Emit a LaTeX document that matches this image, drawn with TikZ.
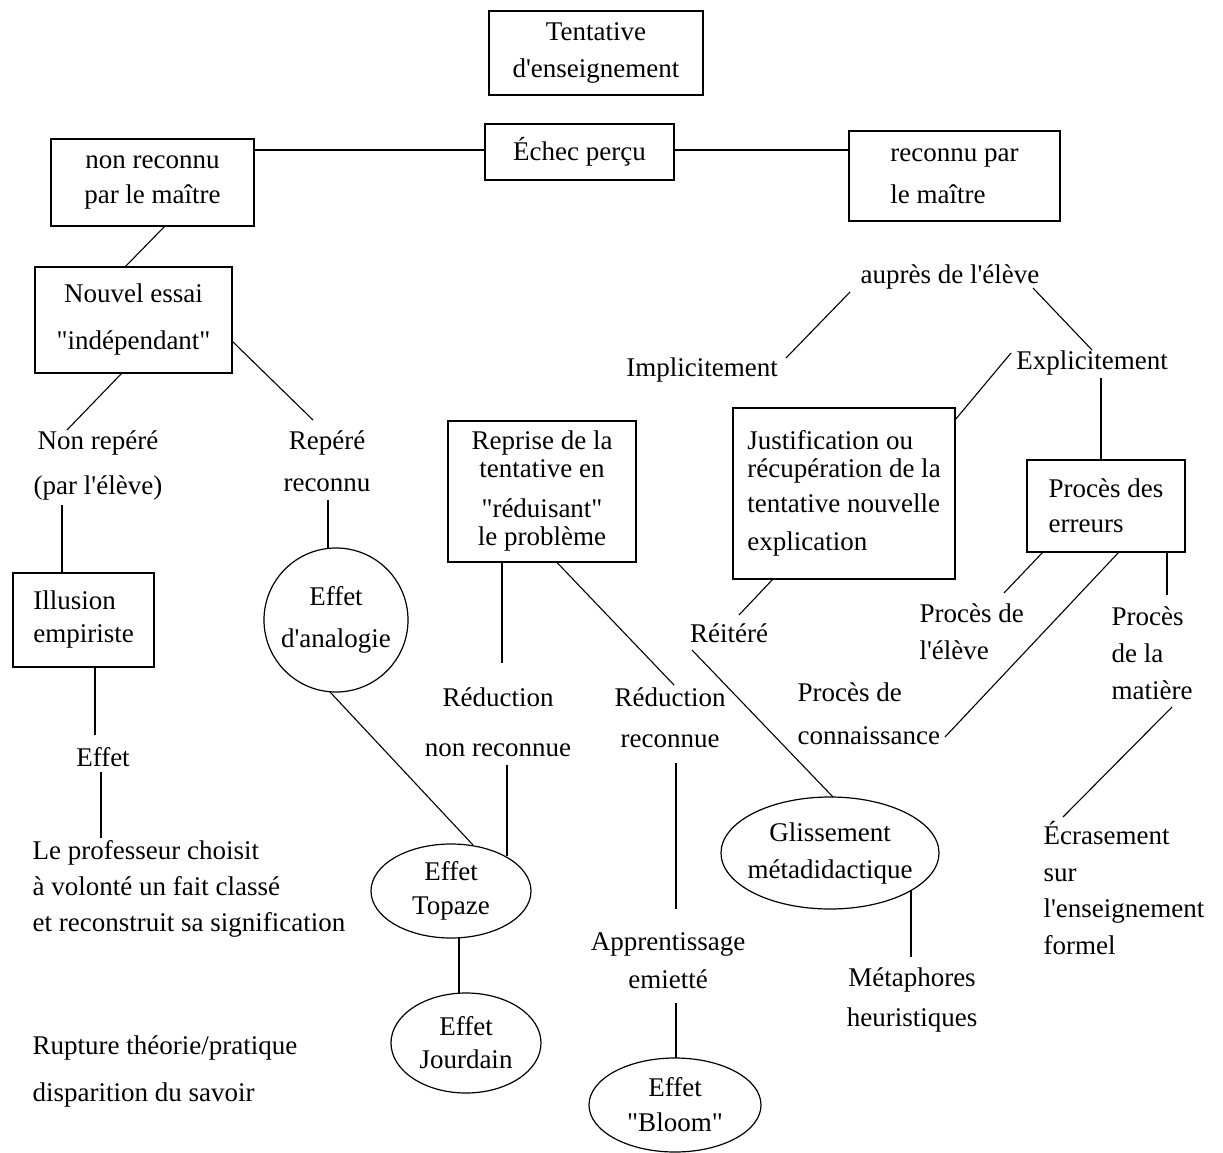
\documentclass[tikz,border=0pt]{standalone}
\usepackage{fontspec}
\newfontfamily\lsf{Liberation Serif}
\usetikzlibrary{shapes.geometric}
\begin{document}
\begin{tikzpicture}[x=1pt,y=-1pt,line width=1.2pt,
  txt/.style={font=\lsf\fontsize{27pt}{#1pt}\selectfont,inner sep=0pt,align=center},
  txt/.default=36,
  txtl/.style={font=\lsf\fontsize{27pt}{#1pt}\selectfont,inner sep=0pt,align=left,anchor=west},
  txtl/.default=36,
  boxn/.style={draw,rectangle,inner sep=0pt},
  ellp/.style={draw,ellipse,inner sep=0pt},
  conn/.style={line width=1.1pt}]
\useasboundingbox (0,0) rectangle (1223,1153);

% boxes
\node[boxn,txt=37,minimum width=214pt,minimum height=84pt] (tent) at (596,53) {Tentative\\d'enseignement};
\node[boxn,txt,minimum width=189pt,minimum height=56pt] (echec) at (579.5,152) {Échec perçu};
\node[boxn,txt=35,minimum width=203pt,minimum height=87pt] (nrm) at (152.5,182.5) {non reconnu\\par le maître};
\node[boxn,txt=42,align=left,minimum width=211pt,minimum height=90pt] (rm) at (954.5,176) {reconnu par\\le maître};
\node[boxn,txt=47,minimum width=197pt,minimum height=106pt] (nouvel) at (133.5,320) {Nouvel essai\\"indépendant"};
\node[boxn,txt=33,align=left,minimum width=141pt,minimum height=94pt] (illu) at (83.5,620) {Illusion\\empiriste};
\node[boxn,txt=28,minimum width=188pt,minimum height=141pt] (reprise) at (542,491.5) {Reprise de la\\tentative en\\[12pt]"réduisant"\\le problème};
\node[boxn,txt=28,align=left,minimum width=222pt,minimum height=171pt] (just) at (844,493.5) {Justification ou\\récupération de la\\[7pt]tentative nouvelle\\[10pt]explication};
\node[boxn,txt=35,align=left,minimum width=158pt,minimum height=92pt] (proc) at (1106,506) {Procès des\\erreurs};

% ellipses / circle
\node[draw,circle,inner sep=0pt,minimum size=144pt,txt=42] (analog) at (336,620) {Effet\\d'analogie};
\node[ellp,txt=34,minimum width=160pt,minimum height=94pt] (topaze) at (451,891) {Effet\\Topaze};
\node[ellp,txt=33,minimum width=150pt,minimum height=100pt] (jourdain) at (466,1043) {Effet\\Jourdain};
\node[ellp,txt=35,minimum width=172pt,minimum height=94pt] (bloom) at (675,1105) {Effet\\"Bloom"};
\node[ellp,txt=37,inner xsep=-10pt,minimum width=218pt,minimum height=112pt] (glis) at (830,853) {Glissement\\métadidactique};

% labels
\node[txt=45] (npr) at (98,465) {Non repéré\\(par l'élève)};
\node[txt=42] (rep) at (327,461) {Repéré\\reconnu};
\node[txt] (eff1) at (103,757) {Effet};
\node[txtl=36] (prof) at (32,889) {Le professeur choisit\\à volonté un fait classé\\et reconstruit sa signification};
\node[txtl=47] (rupt) at (32,1071.5) {Rupture théorie/pratique\\disparition du savoir};
\node[txt=50] (red1) at (498,722) {Réduction\\non reconnue};
\node[txt=41] (red2) at (670,717.5) {Réduction\\reconnue};
\node[txt=38] (appr) at (668,961) {Apprentissage\\emietté};
\node[txt=40] (meta) at (912,1000) {Métaphores\\heuristiques};
\node[txt] (aupres) at (950,277) {auprès de l'élève};
\node[txt] (impl) at (702,370) {Implicitement};
\node[txt] (expl) at (1092,363) {Explicitement};
\node[txt] (reit) at (729,633) {Réitéré};
\node[txtl=37] (pel) at (919,631.5) {Procès de\\l'élève};
\node[txtl=43] (pco) at (797,713.5) {Procès de\\connaissance};
\node[txtl=37] (pma) at (1111,653.5) {Procès\\de la\\matière};
\node[txtl=36.5] (ecr) at (1043,888) {Écrasement\\sur\\l'enseignement\\formel};

% connectors
\draw[conn] ([shift={(0,-2)}]echec.west) -- ([shift={(0,-2)}]echec.west -| nrm.east);
\draw[conn] ([shift={(0,-2)}]echec.east) -- ([shift={(0,-2)}]echec.east -| rm.west);
\draw[conn] ([shift={(12.5,43.5)}]nrm.center) -- ([shift={(-8.5,-53)}]nouvel.center);
\draw[conn] ([shift={(-11.5,53)}]nouvel.center) -- ([shift={(-31,-35)}]npr.center);
\draw[conn] ([shift={(99.5,22)}]nouvel.center) -- ([shift={(-14,-41)}]rep.center);
\draw[conn] ([shift={(-36,40)}]npr.center) -- ([shift={(-21.5,-47)}]illu.center);
\draw[conn] ([shift={(1,39)}]rep.center) -- ([shift={(-8,-72)}]analog.center);
\draw[conn] ([shift={(11.5,47)}]illu.center) -- ([shift={(-8,-22)}]eff1.center);
\draw[conn] ([shift={(-2,15)}]eff1.center) -- ([shift={(69,-51)}]prof.west);
\draw[conn] ([shift={(-6,72)}]analog.center) -- ([shift={(22,-46)}]topaze.center);
\draw[conn] ([shift={(-40,71)}]reprise.center) -- ([shift={(4,-59)}]red1.center);
\draw[conn] ([shift={(9,43)}]red1.center) -- ([shift={(56,-35)}]topaze.center);
\draw[conn] ([shift={(15,71)}]reprise.center) -- ([shift={(4,-32.5)}]red2.center);
\draw[conn] ([shift={(6,45.5)}]red2.center) -- ([shift={(8,-52)}]appr.center);
\draw[conn] ([shift={(8,42)}]appr.center) -- ([shift={(1,-47)}]bloom.center);
\draw[conn] ([shift={(8,47)}]topaze.center) -- ([shift={(-7,-50)}]jourdain.center);
\draw[conn] ([shift={(84,-12)}]impl.center) -- ([shift={(-100,15)}]aupres.center);
\draw[conn] ([shift={(83,11)}]aupres.center) -- ([shift={(0,-13)}]expl.center);
\draw[conn] ([shift={(-81,-10)}]expl.center) -- ([shift={(111,-73.5)}]just.center);
\draw[conn] ([shift={(9,15)}]expl.center) -- ([shift={(-5,-46)}]proc.center);
\draw[conn] ([shift={(-71,85.5)}]just.center) -- ([shift={(10,-18)}]reit.center);
\draw[conn] ([shift={(-37,17)}]reit.center) -- ([shift={(3,-56)}]glis.center);
\draw[conn] ([shift={(81,37)}]glis.center) -- ([shift={(-1,-43)}]meta.center);
\draw[conn] ([shift={(-63,46)}]proc.center) -- ([shift={(85,-38.5)}]pel.west);
\draw[conn] ([shift={(13,46)}]proc.center) -- ([shift={(148,23.5)}]pco.west);
\draw[conn] ([shift={(61,46)}]proc.center) -- ([shift={(56,-58.5)}]pma.west);
\draw[conn] ([shift={(61,53.5)}]pma.west) -- ([shift={(20,-71)}]ecr.west);
\end{tikzpicture}
\end{document}
